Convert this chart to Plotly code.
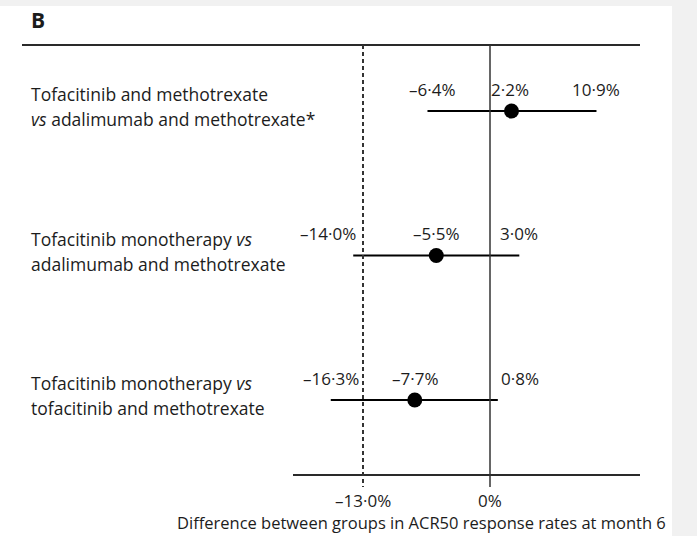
import plotly.graph_objects as go

# Treatment comparisons and ACR50 response-rate differences (%), month 6
comparisons = [
    ["Tofacitinib and methotrexate", "<i>vs</i> adalimumab and methotrexate*"],
    ["Tofacitinib monotherapy <i>vs</i>", "adalimumab and methotrexate"],
    ["Tofacitinib monotherapy <i>vs</i>", "tofacitinib and methotrexate"],
]
estimates = [2.2, -5.5, -7.7]
ci_lower = [-6.4, -14.0, -16.3]
ci_upper = [10.9, 3.0, 0.8]
noninferiority_margin = -13.0
axis_ticks = [-13.0, 0.0]
axis_title = "Difference between groups in ACR50 response rates at month 6"
panel_label = "B"

W, H = 697, 536
FONT = "Open Sans"
TXT = "#1c1c1c"


def pct(v):
    if v == 0:
        return "0%"
    s = f"{abs(v):.1f}".replace(".", "·") + "%"
    return ("–" + s) if v < 0 else s


def py(px):
    """Convert a pixel row (from top) into paper y."""
    return 1 - px / H


rows = list(range(len(comparisons)))

fig = go.Figure()

fig.add_trace(go.Scatter(
    x=estimates,
    y=rows,
    mode="markers",
    marker=dict(size=15, color="black"),
    error_x=dict(
        type="data",
        symmetric=False,
        array=[u - e for u, e in zip(ci_upper, estimates)],
        arrayminus=[e - l for e, l in zip(estimates, ci_lower)],
        thickness=2,
        width=0,
        color="black",
    ),
    hoverinfo="skip",
    showlegend=False,
))

shapes = [
    # white panel on grey page
    dict(type="rect", xref="paper", yref="paper", x0=0, x1=672 / W, y0=0, y1=py(6),
         fillcolor="white", line=dict(width=0), layer="below"),
    # top rule
    dict(type="line", xref="paper", yref="paper", x0=22 / W, x1=640 / W, y0=py(45), y1=py(45),
         line=dict(color="#2a2a2a", width=2)),
    # bottom axis line
    dict(type="line", xref="paper", yref="paper", x0=293 / W, x1=640 / W, y0=py(475), y1=py(475),
         line=dict(color="#2a2a2a", width=2)),
    # line of no difference
    dict(type="line", xref="x", yref="paper", x0=0, x1=0, y0=py(45), y1=py(487),
         line=dict(color="#333333", width=1.5)),
    # non-inferiority margin
    dict(type="line", xref="x", yref="paper", x0=noninferiority_margin, x1=noninferiority_margin,
         y0=py(45), y1=py(487), line=dict(color="#333333", width=2, dash="4px,3px")),
]

annotations = [
    dict(text=f"<b>{panel_label}</b>", xref="paper", yref="paper", x=29 / W, y=py(20),
         xanchor="left", yanchor="middle", showarrow=False,
         font=dict(family=FONT, size=21, color=TXT)),
    dict(text=axis_title, xref="paper", yref="paper", x=421 / W, y=py(522),
         xanchor="center", yanchor="middle", showarrow=False,
         font=dict(family=FONT, size=16.5, color=TXT)),
]

for t in axis_ticks:
    annotations.append(dict(text=pct(t), xref="x", yref="paper", x=t, y=py(500),
                            xanchor="center", yanchor="middle", showarrow=False,
                            font=dict(family=FONT, size=17, color=TXT)))

# two-line comparison labels, 25 px line pitch
for i, lines in enumerate(comparisons):
    for j, line in enumerate(lines):
        annotations.append(dict(text=line, xref="paper", yref="y", x=29 / W, y=i,
                                xanchor="left", yanchor="middle", align="left",
                                yshift=17 - 25 * j, showarrow=False,
                                font=dict(family=FONT, size=17.5, color=TXT)))

# nudge a few value labels away from the reference lines
label_shift = {(1, "lo"): -25, (2, "hi"): 22, (0, "lo"): 5, (0, "est"): -1}
for i in rows:
    for key, v in (("lo", ci_lower[i]), ("est", estimates[i]), ("hi", ci_upper[i])):
        annotations.append(dict(text=pct(v), xref="x", yref="y", x=v, y=i,
                                xanchor="center", yanchor="middle", showarrow=False,
                                yshift=22, xshift=label_shift.get((i, key), 0),
                                font=dict(family=FONT, size=17, color=TXT)))

px_per_unit = 127 / 13.0
zero_px = 490
row0_px, row_gap_px = 111, 144.5

fig.update_layout(
    width=W, height=H,
    margin=dict(l=0, r=0, t=0, b=0),
    paper_bgcolor="#f1f1f1",
    plot_bgcolor="rgba(0,0,0,0)",
    xaxis=dict(range=[-zero_px / px_per_unit, (W - zero_px) / px_per_unit],
               visible=False, fixedrange=True),
    yaxis=dict(range=[(H - row0_px) / row_gap_px, -row0_px / row_gap_px],
               visible=False, fixedrange=True),
    shapes=shapes,
    annotations=annotations,
)

fig.write_html("out.html")
